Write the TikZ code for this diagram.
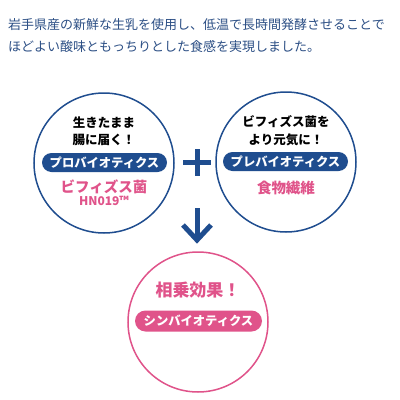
\documentclass[tikz,border=0pt]{standalone}
\usepackage{fontspec}
\setmainfont{Noto Sans CJK JP}
\usetikzlibrary{positioning}
\definecolor{navy}{HTML}{1F4D8F}
\definecolor{toptext}{HTML}{2C4F85}
\definecolor{pinkc}{HTML}{E0538A}
\tikzset{
  ring/.style={circle, draw=navy, line width=1.5pt, minimum size=140pt, inner sep=0pt},
  pinkring/.style={circle, draw=pinkc, line width=1.5pt, minimum size=140pt, inner sep=0pt},
  pill/.style={fill=navy, text=white, rounded corners=9.5pt, minimum width=125pt, minimum height=19pt, inner sep=0pt, font=\fontsize{12.3}{13}\selectfont\bfseries},
  pinkpill/.style={pill, fill=pinkc},
  head/.style={font=\fontsize{12.5}{14}\selectfont\bfseries, text=black, inner sep=0pt},
  pinklabel/.style={font=\fontsize{14.5}{16}\selectfont\bfseries, text=pinkc, inner sep=0pt},
  thick bar/.style={draw=navy, line width=5pt},
  intro/.style={font=\fontsize{13}{14}\selectfont, text=toptext, inner sep=0pt, anchor=west}
}
\begin{document}
\begin{tikzpicture}[x=1pt,y=-1pt]
\useasboundingbox[fill=white] (0,0) rectangle (400,400);
% intro text
\node[intro] (l1) at (8,25) {岩手県産の新鮮な生乳を使用し、低温で長時間発酵させることで};
\node[intro] (l2) at (8,47) {ほどよい酸味ともっちりとした食感を実現しました。};
% left circle
\node[ring] (left) at (104,163) {};
\node[head] (lh1) at (104,123) {生きたまま};
\node[head] (lh2) at (104,140) {腸に届く！};
\node[pill] (lpill) at (104.5,162.5) {プロバイオティクス};
\node[pinklabel] (lp1) at (104,187) {ビフィズス菌};
\node[font=\fontsize{12}{13}\selectfont\bfseries, text=pinkc, inner sep=0pt] (lp2) at (104,201) {HN019™};
% right circle
\node[ring] (right) at (286,162) {};
\node[head] (rh1) at (286,122) {ビフィズス菌を};
\node[head] (rh2) at (286,140) {より元気に！};
\node[pill] (rpill) at (285.5,161.5) {プレバイオティクス};
\node[pinklabel] (rp1) at (286,188) {食物繊維};
% plus
\coordinate (pl) at (183,162);
\coordinate (pr) at (211,162);
\coordinate (pt) at (197,149);
\coordinate (pb) at (197,176);
\draw[thick bar] (pl) -- (pr);
\draw[thick bar] (pt) -- (pb);
% arrow
\coordinate (as) at (197,208);
\coordinate (at) at (197,240);
\coordinate (aL) at (183,225);
\coordinate (aR) at (211,225);
\draw[thick bar] (as) -- (at);
\draw[thick bar, line join=miter] (aL) -- (at) -- (aR);
% bottom circle
\node[pinkring] (bottom) at (198,322) {};
\node[font=\fontsize{17}{19}\selectfont\bfseries, text=pinkc, inner sep=0pt] (bh) at (198,290) {相乗効果！};
\node[pinkpill, minimum width=127pt, minimum height=21pt, rounded corners=10.5pt] (bpill) at (198.5,321) {シンバイオティクス};
\end{tikzpicture}
\end{document}
